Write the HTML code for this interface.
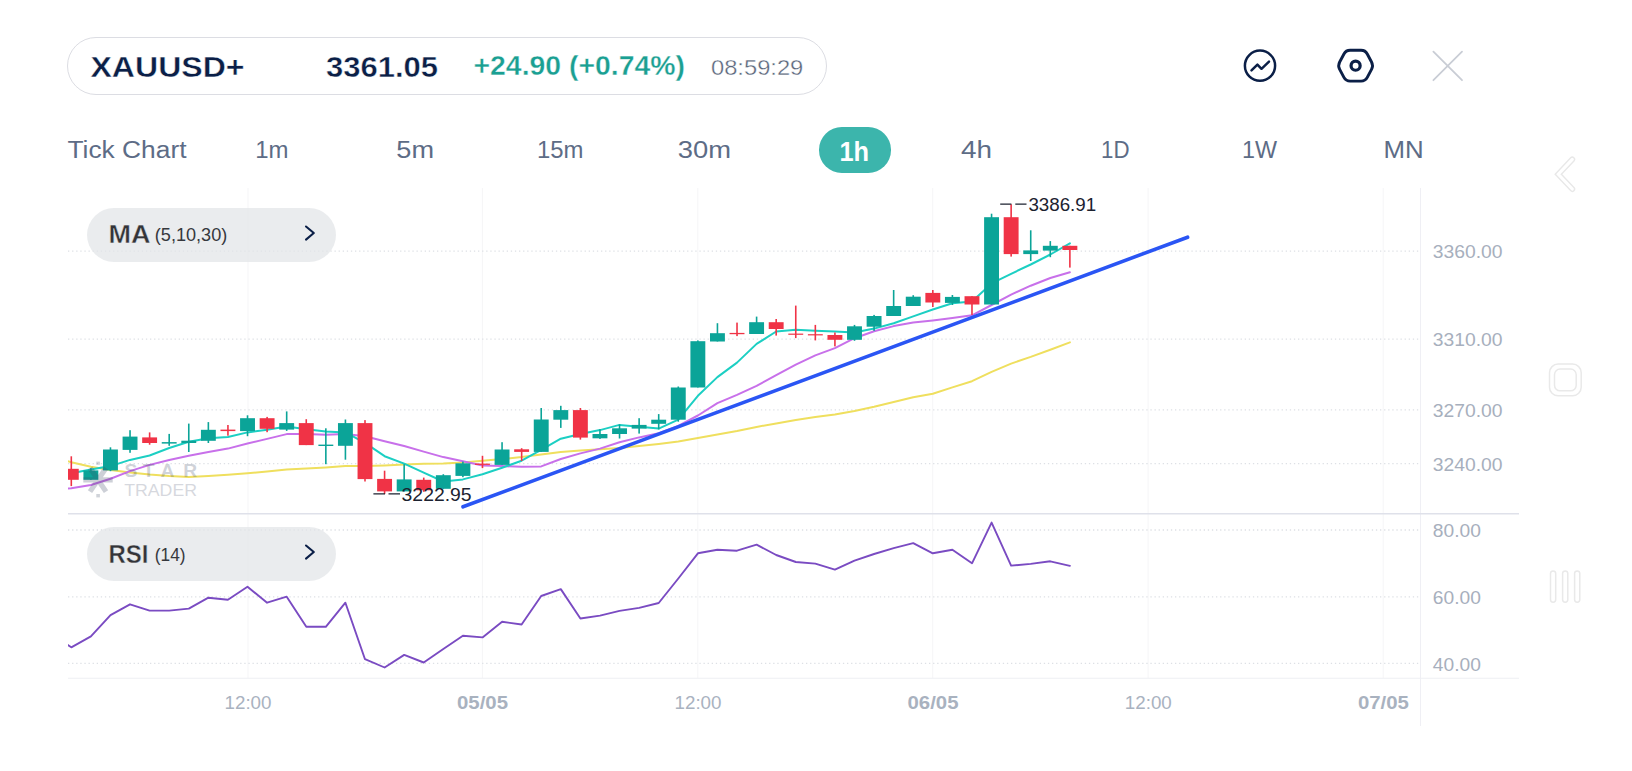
<!DOCTYPE html>
<html lang="en"><head><meta charset="utf-8"><title>XAUUSD+ chart</title>
<style>
html,body{margin:0;padding:0;background:#fff;}
body{width:1632px;height:771px;position:relative;overflow:hidden;font-family:"Liberation Sans",Arial,sans-serif;}
.box{position:absolute;box-sizing:border-box;}
#sym{left:67px;top:37px;width:760px;height:57.5px;border:1.2px solid #dcdde3;border-radius:29px;background:#fff;}
#tf1h{left:818.6px;top:127px;width:72.4px;height:45.6px;border-radius:22.8px;background:#3cb5ac;}
.pill{left:86.5px;width:249.8px;height:54.2px;border-radius:27.1px;background:rgba(226,228,232,0.72);}
#pma{top:207.5px;}
#prsi{top:527.3px;}
</style></head><body>
<div class="box" id="sym"></div>
<div class="box" id="tf1h"></div>
<svg id="chart" width="1632" height="771" viewBox="0 0 1632 771" style="position:absolute;left:0;top:0">
<defs><clipPath id="clip"><rect x="68" y="188" width="1352" height="490"/></clipPath></defs>
<g stroke="#f5f5f7" stroke-width="1" fill="none">
<line x1="248.0" y1="188" x2="248.0" y2="678"/>
<line x1="482.4" y1="188" x2="482.4" y2="678"/>
<line x1="697.8" y1="188" x2="697.8" y2="678"/>
<line x1="932.7" y1="188" x2="932.7" y2="678"/>
<line x1="1148.1" y1="188" x2="1148.1" y2="678"/>
<line x1="1383.2" y1="188" x2="1383.2" y2="678"/>
</g>
<line x1="1420.5" y1="188" x2="1420.5" y2="726" stroke="#efeff4" stroke-width="1.1"/>
<g stroke="#dde0e5" stroke-width="1.3" stroke-dasharray="1.3 2.8" fill="none">
<line x1="68" y1="251.1" x2="1419" y2="251.1"/>
<line x1="68" y1="339.1" x2="1419" y2="339.1"/>
<line x1="68" y1="409.8" x2="1419" y2="409.8"/>
<line x1="68" y1="463.7" x2="1419" y2="463.7"/>
<line x1="68" y1="530" x2="1419" y2="530"/>
<line x1="68" y1="596.8" x2="1419" y2="596.8"/>
<line x1="68" y1="663.3" x2="1419" y2="663.3"/>
</g>
<line x1="68" y1="513.7" x2="1519" y2="513.7" stroke="#dfe1ea" stroke-width="1.6"/>
<line x1="68" y1="678.3" x2="1519" y2="678.3" stroke="#eeeff3" stroke-width="1.1"/>
<g clip-path="url(#clip)">
<polyline points="67.6,461.2 71.3,462.3 90.9,466.8 110.5,470 130.0,472.4 149.6,474.6 169.2,476.1 188.8,476.9 208.4,475.9 227.9,474.8 247.5,473.3 267.1,471.6 286.7,469.6 306.3,468.5 325.8,467.4 345.4,465.9 365.0,466.1 384.6,465.5 404.2,464.6 423.7,463.8 443.3,463.4 462.9,462.5 482.5,460.7 502.1,459 521.6,457.1 541.2,454.5 560.8,451.9 580.4,450.6 600.0,449.3 619.5,448 639.1,446 658.7,443.9 678.3,441.5 697.9,437.9 717.4,434.6 737.0,431.1 756.6,426.9 776.2,423.4 795.8,420.1 815.3,417 834.9,414.5 854.5,410.9 874.1,406.7 893.7,402 913.2,397.2 932.8,393.7 952.4,387.4 972.0,381.2 991.6,371.9 1011.1,363.6 1030.7,356.9 1050.3,349.7 1069.9,342.4" fill="none" stroke="#efdf5e" stroke-width="2.0" stroke-linejoin="round" stroke-linecap="round"/>
<polyline points="67.6,488.5 71.3,488.2 90.9,485 110.5,478.7 130.0,471.1 149.6,464.9 169.2,460 188.8,455.8 208.4,452.1 227.9,448.6 247.5,443.5 267.1,438.9 286.7,434.1 306.3,434 325.8,434.8 345.4,434 365.0,436.3 384.6,441.2 404.2,446 423.7,451.6 443.3,457.1 462.9,461.2 482.5,465.5 502.1,466.1 521.6,466.8 541.2,466.4 560.8,459 580.4,453.4 600.0,448.6 619.5,442.2 639.1,437.4 658.7,433.2 678.3,425.9 697.9,415.5 717.4,403.1 737.0,394.8 756.6,385.9 776.2,375.1 795.8,364.7 815.3,355.4 834.9,348.1 854.5,338.2 874.1,331.2 893.7,326.1 913.2,322.6 932.8,320.5 952.4,318 972.0,315.3 991.6,305 1011.1,294.6 1030.7,285.7 1050.3,278 1069.9,272.2" fill="none" stroke="#c870ea" stroke-width="2.0" stroke-linejoin="round" stroke-linecap="round"/>
<polyline points="71.3,473.3 90.9,469.4 110.5,466.1 130.0,459.9 149.6,455.5 169.2,448 188.8,441.8 208.4,438.3 227.9,437 247.5,432.4 267.1,429.8 286.7,426.6 306.3,429.2 325.8,431.5 345.4,432.4 365.0,442.8 384.6,456.2 404.2,463.6 423.7,472.6 443.3,481.5 462.9,479.4 482.5,474.2 502.1,467.7 521.6,460.7 541.2,449.9 560.8,438.7 580.4,434 600.0,430.1 619.5,424.9 639.1,426.7 658.7,428.6 678.3,419.7 697.9,395.8 717.4,377.1 737.0,362.6 756.6,343.9 776.2,331.5 795.8,329.8 815.3,330.7 834.9,331.5 854.5,332.6 874.1,328.6 893.7,323.2 913.2,316.4 932.8,309.5 952.4,303.3 972.0,301.4 991.6,283.4 1011.1,273.8 1030.7,264.5 1050.3,254.5 1069.9,243.3" fill="none" stroke="#1ccfc3" stroke-width="2.0" stroke-linejoin="round" stroke-linecap="round"/>
<rect x="70.50" y="456.3" width="1.6" height="29.8" fill="#f03346"/>
<rect x="63.85" y="468.8" width="14.9" height="11.0" fill="#f03346"/>
<rect x="90.08" y="468.2" width="1.6" height="11.6" fill="#0ba498"/>
<rect x="83.43" y="470.4" width="14.9" height="9.4" fill="#0ba498"/>
<rect x="109.66" y="447.3" width="1.6" height="23.9" fill="#0ba498"/>
<rect x="103.01" y="449.5" width="14.9" height="20.9" fill="#0ba498"/>
<rect x="129.24" y="430.2" width="1.6" height="22.6" fill="#0ba498"/>
<rect x="122.59" y="436.6" width="14.9" height="13.3" fill="#0ba498"/>
<rect x="148.82" y="432.4" width="1.6" height="12.3" fill="#f03346"/>
<rect x="142.17" y="437.4" width="14.9" height="5.6" fill="#f03346"/>
<rect x="168.40" y="433.9" width="1.6" height="11.9" fill="#0ba498"/>
<rect x="161.75" y="442.1" width="14.9" height="1.5" fill="#0ba498"/>
<rect x="187.98" y="423.6" width="1.6" height="28.4" fill="#0ba498"/>
<rect x="181.33" y="440.7" width="14.9" height="2.3" fill="#0ba498"/>
<rect x="207.56" y="422.1" width="1.6" height="20.9" fill="#0ba498"/>
<rect x="200.91" y="429.8" width="14.9" height="11.0" fill="#0ba498"/>
<rect x="227.14" y="425.0" width="1.6" height="10.7" fill="#f03346"/>
<rect x="220.49" y="429.6" width="14.9" height="1.5" fill="#f03346"/>
<rect x="246.72" y="415.3" width="1.6" height="20.9" fill="#0ba498"/>
<rect x="240.07" y="418.2" width="14.9" height="12.9" fill="#0ba498"/>
<rect x="266.30" y="416.9" width="1.6" height="15.3" fill="#f03346"/>
<rect x="259.65" y="418.2" width="14.9" height="10.6" fill="#f03346"/>
<rect x="285.88" y="411.4" width="1.6" height="19.5" fill="#0ba498"/>
<rect x="279.23" y="423.1" width="14.9" height="6.5" fill="#0ba498"/>
<rect x="305.46" y="419.2" width="1.6" height="25.9" fill="#f03346"/>
<rect x="298.81" y="423.1" width="14.9" height="22.0" fill="#f03346"/>
<rect x="325.04" y="428.3" width="1.6" height="35.9" fill="#0ba498"/>
<rect x="318.39" y="444.6" width="14.9" height="1.4" fill="#0ba498"/>
<rect x="344.62" y="419.5" width="1.6" height="40.2" fill="#0ba498"/>
<rect x="337.97" y="423.1" width="14.9" height="22.7" fill="#0ba498"/>
<rect x="364.20" y="420.1" width="1.6" height="61.4" fill="#f03346"/>
<rect x="357.55" y="423.1" width="14.9" height="56.0" fill="#f03346"/>
<rect x="383.78" y="470.7" width="1.6" height="23.3" fill="#f03346"/>
<rect x="377.13" y="478.9" width="14.9" height="12.5" fill="#f03346"/>
<rect x="403.36" y="464.2" width="1.6" height="27.2" fill="#0ba498"/>
<rect x="396.71" y="479.4" width="14.9" height="12.0" fill="#0ba498"/>
<rect x="422.94" y="477.6" width="1.6" height="14.2" fill="#f03346"/>
<rect x="416.29" y="479.8" width="14.9" height="10.5" fill="#f03346"/>
<rect x="442.52" y="474.2" width="1.6" height="14.6" fill="#0ba498"/>
<rect x="435.87" y="475.2" width="14.9" height="13.6" fill="#0ba498"/>
<rect x="462.10" y="461.6" width="1.6" height="15.6" fill="#0ba498"/>
<rect x="455.45" y="463.3" width="14.9" height="12.6" fill="#0ba498"/>
<rect x="481.68" y="455.8" width="1.6" height="12.3" fill="#f03346"/>
<rect x="475.03" y="463.6" width="14.9" height="1.3" fill="#f03346"/>
<rect x="501.26" y="442.2" width="1.6" height="22.7" fill="#0ba498"/>
<rect x="494.61" y="449.5" width="14.9" height="15.4" fill="#0ba498"/>
<rect x="520.84" y="448.2" width="1.6" height="12.8" fill="#f03346"/>
<rect x="514.19" y="449.3" width="14.9" height="2.6" fill="#f03346"/>
<rect x="540.42" y="408.0" width="1.6" height="43.9" fill="#0ba498"/>
<rect x="533.77" y="419.5" width="14.9" height="32.4" fill="#0ba498"/>
<rect x="560.00" y="405.8" width="1.6" height="22.1" fill="#0ba498"/>
<rect x="553.35" y="410.1" width="14.9" height="9.6" fill="#0ba498"/>
<rect x="579.58" y="408.0" width="1.6" height="31.6" fill="#f03346"/>
<rect x="572.93" y="410.1" width="14.9" height="27.5" fill="#f03346"/>
<rect x="599.16" y="429.2" width="1.6" height="9.7" fill="#0ba498"/>
<rect x="592.51" y="434.0" width="14.9" height="4.3" fill="#0ba498"/>
<rect x="618.74" y="424.4" width="1.6" height="14.1" fill="#0ba498"/>
<rect x="612.09" y="428.3" width="14.9" height="5.7" fill="#0ba498"/>
<rect x="638.32" y="418.2" width="1.6" height="15.4" fill="#0ba498"/>
<rect x="631.67" y="424.9" width="14.9" height="3.7" fill="#0ba498"/>
<rect x="657.90" y="414.1" width="1.6" height="15.3" fill="#0ba498"/>
<rect x="651.25" y="419.7" width="14.9" height="4.1" fill="#0ba498"/>
<rect x="677.48" y="386.5" width="1.6" height="35.2" fill="#0ba498"/>
<rect x="670.83" y="387.5" width="14.9" height="32.2" fill="#0ba498"/>
<rect x="697.06" y="340.4" width="1.6" height="47.1" fill="#0ba498"/>
<rect x="690.41" y="341.2" width="14.9" height="46.3" fill="#0ba498"/>
<rect x="716.64" y="323.2" width="1.6" height="18.3" fill="#0ba498"/>
<rect x="709.99" y="333.2" width="14.9" height="8.3" fill="#0ba498"/>
<rect x="736.22" y="322.6" width="1.6" height="13.5" fill="#f03346"/>
<rect x="729.57" y="332.9" width="14.9" height="1.3" fill="#f03346"/>
<rect x="755.80" y="316.6" width="1.6" height="17.4" fill="#0ba498"/>
<rect x="749.15" y="322.2" width="14.9" height="11.8" fill="#0ba498"/>
<rect x="775.38" y="319.0" width="1.6" height="16.6" fill="#f03346"/>
<rect x="768.73" y="322.2" width="14.9" height="6.8" fill="#f03346"/>
<rect x="794.96" y="305.6" width="1.6" height="32.5" fill="#f03346"/>
<rect x="788.31" y="333.6" width="14.9" height="1.2" fill="#f03346"/>
<rect x="814.54" y="324.9" width="1.6" height="15.5" fill="#f03346"/>
<rect x="807.89" y="334.2" width="14.9" height="1.2" fill="#f03346"/>
<rect x="834.12" y="332.5" width="1.6" height="13.9" fill="#f03346"/>
<rect x="827.47" y="335.0" width="14.9" height="4.8" fill="#f03346"/>
<rect x="853.70" y="324.9" width="1.6" height="15.9" fill="#0ba498"/>
<rect x="847.05" y="326.3" width="14.9" height="13.5" fill="#0ba498"/>
<rect x="873.28" y="314.9" width="1.6" height="16.0" fill="#0ba498"/>
<rect x="866.63" y="316.0" width="14.9" height="10.7" fill="#0ba498"/>
<rect x="892.86" y="290.0" width="1.6" height="26.0" fill="#0ba498"/>
<rect x="886.21" y="306.0" width="14.9" height="10.0" fill="#0ba498"/>
<rect x="912.44" y="295.2" width="1.6" height="10.8" fill="#0ba498"/>
<rect x="905.79" y="296.7" width="14.9" height="9.3" fill="#0ba498"/>
<rect x="932.02" y="290.0" width="1.6" height="17.0" fill="#f03346"/>
<rect x="925.37" y="292.9" width="14.9" height="9.6" fill="#f03346"/>
<rect x="951.60" y="295.0" width="1.6" height="10.0" fill="#0ba498"/>
<rect x="944.95" y="296.9" width="14.9" height="6.0" fill="#0ba498"/>
<rect x="971.18" y="296.2" width="1.6" height="18.7" fill="#f03346"/>
<rect x="964.53" y="296.2" width="14.9" height="8.3" fill="#f03346"/>
<rect x="990.76" y="213.7" width="1.6" height="90.8" fill="#0ba498"/>
<rect x="984.11" y="217.2" width="14.9" height="87.3" fill="#0ba498"/>
<rect x="1010.34" y="204.3" width="1.6" height="52.3" fill="#f03346"/>
<rect x="1003.69" y="217.2" width="14.9" height="36.9" fill="#f03346"/>
<rect x="1029.92" y="230.3" width="1.6" height="30.7" fill="#0ba498"/>
<rect x="1023.27" y="250.4" width="14.9" height="3.7" fill="#0ba498"/>
<rect x="1049.50" y="241.1" width="1.6" height="16.1" fill="#0ba498"/>
<rect x="1042.85" y="245.8" width="14.9" height="4.8" fill="#0ba498"/>
<rect x="1069.08" y="245.8" width="1.6" height="21.8" fill="#f03346"/>
<rect x="1062.43" y="245.8" width="14.9" height="4.2" fill="#f03346"/>
</g>
<line x1="463" y1="506.8" x2="1187.6" y2="237.2" stroke="#2a55f4" stroke-width="3.6" stroke-linecap="round"/>
<g clip-path="url(#clip)">
<polyline points="67.3,644.7 71.3,647.3 90.9,636.4 110.5,615.2 130.0,604.3 149.6,610.6 169.2,610.6 188.8,608.6 208.4,597.7 227.9,599.7 247.5,586.8 267.1,602.7 286.7,596.7 306.3,626.8 325.8,626.8 345.4,602.7 365.0,659.2 384.6,667.5 404.2,654.9 423.7,662.5 443.3,649 462.9,635.7 482.5,637.4 502.1,621.8 521.6,624.5 541.2,596 560.8,589.1 580.4,618.5 600.0,615.6 619.5,610.9 639.1,607.9 658.7,603 678.3,578.5 697.9,553.3 717.4,549.7 737.0,550.7 756.6,544.7 776.2,555 795.8,562 815.3,563.6 834.9,569.6 854.5,560.6 874.1,554 893.7,548.1 913.2,543.1 932.8,553.3 952.4,549.7 972.0,563.3 991.6,522.6 1011.1,565.6 1030.7,563.9 1050.3,561.3 1069.9,565.9" fill="none" stroke="#7a4bc2" stroke-width="1.9" stroke-linejoin="round" stroke-linecap="round"/>
</g>
</svg>
<div class="box pill" id="pma"></div>
<div class="box pill" id="prsi"></div>
<svg id="labels" width="1632" height="771" viewBox="0 0 1632 771" style="position:absolute;left:0;top:0">
<g stroke="#1c2230" stroke-width="1.3" fill="none">
<path d="M1000.2 204.2H1011.4 M1015.3 204.2H1026.5"/>
<path d="M373.4 493.8H385 M388.5 493.8H400"/>
</g>
<g font-family="'Liberation Sans', Arial, sans-serif">
<text x="1028.4" y="210.8" font-size="18.3" font-weight="400" fill="#1c2230" textLength="67.8" lengthAdjust="spacingAndGlyphs" >3386.91</text>
<text x="401.6" y="500.6" font-size="18.3" font-weight="400" fill="#1c2230" textLength="70.0" lengthAdjust="spacingAndGlyphs" >3222.95</text>
<text x="1432.8" y="258.0" font-size="19" font-weight="400" fill="#a7afbd" textLength="69.8" lengthAdjust="spacingAndGlyphs" >3360.00</text>
<text x="1432.8" y="346.0" font-size="19" font-weight="400" fill="#a7afbd" textLength="69.8" lengthAdjust="spacingAndGlyphs" >3310.00</text>
<text x="1432.8" y="416.6" font-size="19" font-weight="400" fill="#a7afbd" textLength="69.8" lengthAdjust="spacingAndGlyphs" >3270.00</text>
<text x="1432.8" y="470.6" font-size="19" font-weight="400" fill="#a7afbd" textLength="69.8" lengthAdjust="spacingAndGlyphs" >3240.00</text>
<text x="1432.8" y="537.0" font-size="19" font-weight="400" fill="#a7afbd" textLength="48.0" lengthAdjust="spacingAndGlyphs" >80.00</text>
<text x="1432.8" y="603.7" font-size="19" font-weight="400" fill="#a7afbd" textLength="48.0" lengthAdjust="spacingAndGlyphs" >60.00</text>
<text x="1432.8" y="670.6" font-size="19" font-weight="400" fill="#a7afbd" textLength="48.0" lengthAdjust="spacingAndGlyphs" >40.00</text>
<text x="224.5" y="709.4" font-size="19" font-weight="400" fill="#a9b2bf" textLength="47.0" lengthAdjust="spacingAndGlyphs" >12:00</text>
<text x="457.0" y="709.4" font-size="19" font-weight="700" fill="#a9b2bf" textLength="51.0" lengthAdjust="spacingAndGlyphs" >05/05</text>
<text x="674.5" y="709.4" font-size="19" font-weight="400" fill="#a9b2bf" textLength="47.0" lengthAdjust="spacingAndGlyphs" >12:00</text>
<text x="907.5" y="709.4" font-size="19" font-weight="700" fill="#a9b2bf" textLength="51.0" lengthAdjust="spacingAndGlyphs" >06/05</text>
<text x="1124.8" y="709.4" font-size="19" font-weight="400" fill="#a9b2bf" textLength="47.0" lengthAdjust="spacingAndGlyphs" >12:00</text>
<text x="1357.9" y="709.4" font-size="19" font-weight="700" fill="#a9b2bf" textLength="51.0" lengthAdjust="spacingAndGlyphs" >07/05</text>
<text x="90.5" y="76.9" font-size="29.9" font-weight="700" fill="#0b1f47" textLength="154.0" lengthAdjust="spacingAndGlyphs" stroke="#ffffff" stroke-width="0.4">XAUUSD+</text>
<text x="326" y="76.9" font-size="29.9" font-weight="700" fill="#0b1f47" textLength="112.0" lengthAdjust="spacingAndGlyphs" stroke="#ffffff" stroke-width="0.4">3361.05</text>
<text x="473.5" y="75.2" font-size="26.8" font-weight="700" fill="#1b9f92" textLength="211.5" lengthAdjust="spacingAndGlyphs" stroke="#ffffff" stroke-width="0.35">+24.90 (+0.74%)</text>
<text x="711" y="74.5" font-size="22" font-weight="400" fill="#59657a" textLength="92.3" lengthAdjust="spacingAndGlyphs" stroke="#ffffff" stroke-width="0.35">08:59:29</text>
<text x="67.5" y="157.9" font-size="23.5" font-weight="400" fill="#5d6c86" textLength="119.0" lengthAdjust="spacingAndGlyphs" >Tick Chart</text>
<text x="255.3" y="157.9" font-size="23.5" font-weight="400" fill="#5d6c86" textLength="33.3" lengthAdjust="spacingAndGlyphs" >1m</text>
<text x="396.3" y="157.9" font-size="23.5" font-weight="400" fill="#5d6c86" textLength="37.7" lengthAdjust="spacingAndGlyphs" >5m</text>
<text x="537" y="157.9" font-size="23.5" font-weight="400" fill="#5d6c86" textLength="46.5" lengthAdjust="spacingAndGlyphs" >15m</text>
<text x="677.8" y="157.9" font-size="23.5" font-weight="400" fill="#5d6c86" textLength="53.2" lengthAdjust="spacingAndGlyphs" >30m</text>
<text x="961" y="157.9" font-size="23.5" font-weight="400" fill="#5d6c86" textLength="31.0" lengthAdjust="spacingAndGlyphs" >4h</text>
<text x="1101" y="157.9" font-size="23.5" font-weight="400" fill="#5d6c86" textLength="28.5" lengthAdjust="spacingAndGlyphs" >1D</text>
<text x="1242" y="157.9" font-size="23.5" font-weight="400" fill="#5d6c86" textLength="35.0" lengthAdjust="spacingAndGlyphs" >1W</text>
<text x="1383.4" y="157.9" font-size="23.5" font-weight="400" fill="#5d6c86" textLength="40.2" lengthAdjust="spacingAndGlyphs" >MN</text>
<text x="839.4" y="161" font-size="28.4" font-weight="700" fill="#ffffff" textLength="29.6" lengthAdjust="spacingAndGlyphs" >1h</text>
<text x="108.5" y="243.3" font-size="25.2" font-weight="700" fill="#333438" textLength="42.0" lengthAdjust="spacingAndGlyphs" stroke="#ebecee" stroke-width="0.4">MA</text>
<text x="154.8" y="241.2" font-size="18.6" font-weight="400" fill="#36383d" textLength="72.5" lengthAdjust="spacingAndGlyphs" >(5,10,30)</text>
<text x="108.5" y="563" font-size="25.2" font-weight="700" fill="#333438" textLength="40.0" lengthAdjust="spacingAndGlyphs" stroke="#ebecee" stroke-width="0.4">RSI</text>
<text x="154.8" y="561" font-size="18.6" font-weight="400" fill="#36383d" textLength="30.8" lengthAdjust="spacingAndGlyphs" >(14)</text>
<g opacity="0.24">
<text x="124.6 142.7 160.4 183.2" y="476.8" font-size="19.2" font-weight="700" fill="#3d4a63">STAR</text>
<text x="124.2" y="496.1" font-size="17.4" font-weight="400" fill="#56617a" textLength="72.8" lengthAdjust="spacingAndGlyphs" >TRADER</text>
</g>
</g>
<g opacity="0.26" stroke="#3d4a63" stroke-width="5.2" fill="none" stroke-linecap="butt">
<path d="M83.3 479.8H112.7 M90 468L106 491.6 M106 468L90 491.6"/>
</g>
<g opacity="0.24" fill="#3d4a63"><rect x="96.3" y="461.6" width="3.6" height="3.2"/><rect x="96.3" y="494" width="3.6" height="3.4"/></g>
<g stroke="#0b1f47" stroke-width="2.1" fill="none" stroke-linecap="round" stroke-linejoin="round">
<path d="M306 226.5L313.8 233L306 239.6"/>
<path d="M306 545.5L313.8 552L306 558.6"/>
</g>
<g stroke="#0b1f47" stroke-width="2.5" fill="none" stroke-linecap="round" stroke-linejoin="round">
<circle cx="1260" cy="65.7" r="15.1"/>
<path d="M1251.5 70.4L1257.4 64.6L1261.5 68.8L1269 61.7"/>
<path d="M1339.67 69.41Q1337.70 65.70 1339.67 61.99L1343.93 54.01Q1345.90 50.30 1350.10 50.30L1361.10 50.30Q1365.30 50.30 1367.27 54.01L1371.53 61.99Q1373.50 65.70 1371.53 69.41L1367.27 77.39Q1365.30 81.10 1361.10 81.10L1350.10 81.10Q1345.90 81.10 1343.93 77.39Z" stroke-width="2.9"/>
<circle cx="1355.6" cy="65.7" r="4.55" stroke-width="3.2"/>
</g>
<path d="M1433.4 51.6L1462 80.2 M1462 51.6L1433.4 80.2" stroke="#c9cdd5" stroke-width="1.8" fill="none" stroke-linecap="round"/>
<path d="M1572.3 159.4L1558.3 174.2L1572.3 189" stroke="#e8e8e8" stroke-width="5.9" fill="none" stroke-linecap="round" stroke-linejoin="miter"/>
<path d="M1572.3 159.4L1558.3 174.2L1572.3 189" stroke="#ffffff" stroke-width="3.1" fill="none" stroke-linecap="round" stroke-linejoin="miter"/>
<g stroke="#e9e9e9" stroke-width="1.5" fill="none" stroke-linejoin="round" stroke-linecap="round">
<rect x="1549.5" y="364.1" width="31.7" height="31.7" rx="8.6"/>
<rect x="1554.5" y="369.1" width="21.7" height="21.7" rx="5.6"/>
<rect x="1550.5" y="570.9" width="5.2" height="31.3" rx="2.6"/>
<rect x="1562.6" y="570.9" width="5.2" height="31.3" rx="2.6"/>
<rect x="1574.6" y="570.9" width="5.2" height="31.3" rx="2.6"/>
</g>
</svg>
</body></html>
